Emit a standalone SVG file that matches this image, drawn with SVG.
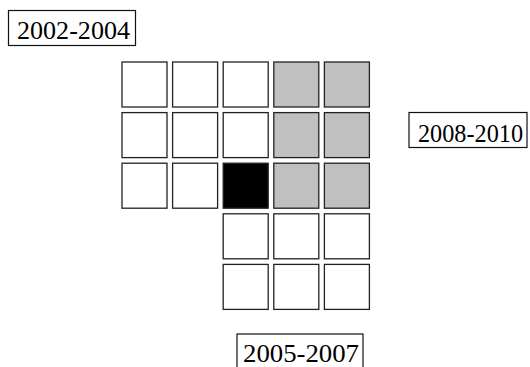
<svg xmlns="http://www.w3.org/2000/svg" width="530" height="367" viewBox="0 0 530 367">
<style>
.c{stroke:#222;stroke-width:1.3;fill:#fff}
.g{fill:#c0c0c0}
.k{fill:#000}
.lb{fill:#fff;stroke:#111;stroke-width:1.2}
.t{font-family:"Liberation Serif","Times New Roman",serif;font-size:25px;fill:#000}
</style>
<rect width="530" height="367" fill="#fff"/>
<g id="grid">
<rect class="c" x="122" y="62" width="45" height="45"/>
<rect class="c" x="172.6" y="62" width="45" height="45"/>
<rect class="c" x="223.2" y="62" width="45" height="45"/>
<rect class="c g" x="273.8" y="62" width="45" height="45"/>
<rect class="c g" x="324.4" y="62" width="45" height="45"/>
<rect class="c" x="122" y="112.6" width="45" height="45"/>
<rect class="c" x="172.6" y="112.6" width="45" height="45"/>
<rect class="c" x="223.2" y="112.6" width="45" height="45"/>
<rect class="c g" x="273.8" y="112.6" width="45" height="45"/>
<rect class="c g" x="324.4" y="112.6" width="45" height="45"/>
<rect class="c" x="122" y="163.2" width="45" height="45"/>
<rect class="c" x="172.6" y="163.2" width="45" height="45"/>
<rect class="c k" x="223.2" y="163.2" width="45" height="45"/>
<rect class="c g" x="273.8" y="163.2" width="45" height="45"/>
<rect class="c g" x="324.4" y="163.2" width="45" height="45"/>
<rect class="c" x="223.2" y="213.8" width="45" height="45"/>
<rect class="c" x="273.8" y="213.8" width="45" height="45"/>
<rect class="c" x="324.4" y="213.8" width="45" height="45"/>
<rect class="c" x="223.2" y="264.4" width="45" height="45"/>
<rect class="c" x="273.8" y="264.4" width="45" height="45"/>
<rect class="c" x="324.4" y="264.4" width="45" height="45"/>
</g>
<g id="label-2002-2004">
<rect class="lb" x="8.5" y="10.5" width="127" height="35"/>
<text class="t" x="17" y="38.5" textLength="113" lengthAdjust="spacingAndGlyphs">2002-2004</text>
</g>
<g id="label-2008-2010">
<rect class="lb" x="409" y="112.5" width="118" height="35"/>
<text class="t" x="418" y="142" textLength="105" lengthAdjust="spacingAndGlyphs">2008-2010</text>
</g>
<g id="label-2005-2007">
<rect class="lb" x="237" y="334" width="126" height="35"/>
<text class="t" x="243" y="362.3" textLength="116" lengthAdjust="spacingAndGlyphs">2005-2007</text>
</g>
<g id="connectors"></g>
</svg>
